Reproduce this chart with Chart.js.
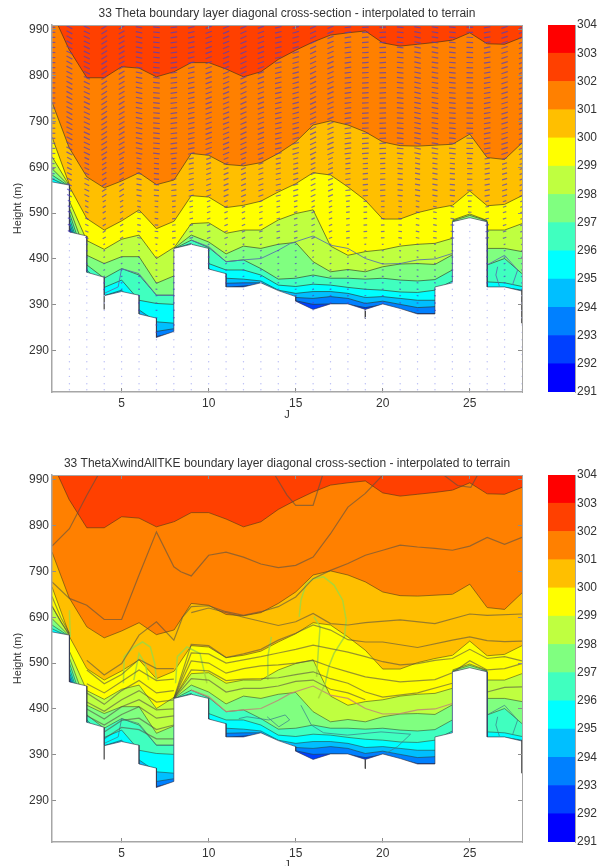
<!DOCTYPE html>
<html lang="en">
<head>
    <meta charset="UTF-8">
    <title>Theta boundary layer cross-sections</title>
    <script src="https://cdn.jsdelivr.net/npm/chart.js"></script>
    <style>
        html, body { margin: 0; padding: 0; background: #fff; }
        #page { position: relative; width: 602px; height: 866px; overflow: hidden; }
        canvas { position: absolute; filter: blur(0.6px); }
        #main1 { left: 0; top: 0; }
        #bar1 { left: 548px; top: 0; }
        #main2 { left: 0; top: 450px; }
        #bar2 { left: 548px; top: 450px; }
    </style>
</head>
<body>
<div id="page">
    <canvas id="main1" width="574" height="425"></canvas>
    <canvas id="bar1" width="54" height="425"></canvas>
    <canvas id="main2" width="574" height="416"></canvas>
    <canvas id="bar2" width="54" height="416"></canvas>
</div>
<script>
// columns of the contour tables. the 2.01, 8.01, 24.01, 26.01 entries are the far side of a terrain step
const jGrid = [1,2,2.01,3,4,5,6,7,8,8.01,9,10,11,12,13,14,15,16,17,18,19,20,21,22,23,24,24.01,25,26,26.01,27,28];

// height (m) of each theta contour
const theta302 = [1028,945,945,885,885,909,906,887,898,898,918,918,904,887,898,925,945,963,978,983,987,961,954,958,962,967,967,983,959,959,958,973];
const theta301 = [832,731,731,669,645,660,678,652,662,662,720,716,696,693,700,720,745,782,791,782,767,745,737,736,738,740,740,762,711,711,707,743];
const theta300 = [756,652,647,578,553,573,597,556,572,572,628,625,602,607,616,636,654,678,673,647,618,577,577,591,600,607,607,638,606,606,609,628];
const theta299 = [713,650,615,530,511,533,542,491,515,514,567,569,546,553,553,575,589,597,518,498,506,510,518,522,524,535,575,588,574,553,553,567];
const theta298 = [687,649,600,498,480,495,495,437,453,513,542,527,501,518,513,522,526,484,462,467,462,473,479,480,478,499,573,585,573,513,513,506];
const theta297 = [673,648,589,477,448,469,455,411,411,512,531,515,484,488,469,446,448,455,448,448,446,448,444,442,445,466,572,576,572,477,491,458];
const theta296 = [665,647,578,466,428,444,400,393,391,512,524,480,466,466,455,433,430,435,433,428,424,422,418,417,422,442,571,575,571,440,438,430];
const theta295 = [655,646,569,461,410,422,379,353,350,511,521,469,448,446,442,422,415,419,419,415,406,408,404,400,400,433,570,574,570,428,428,422];
const theta294 = [650,645,560,455,405,415,370,332,338,510,518,466,437,438,438,418,406,404,408,404,393,398,391,384,386,430,569,573,569,425,425,418];
const theta293 = [645,644,553,450,400,410,365,321,329,509,516,462,428,431,434,414,399,391,392,391,384,390,380,371,371,425,568,572,568,420,420,415];

// terrain outline, steps have the same J twice
const terrainJ = [1,2,2,3,3,4,4,5,6,6,7,7,8,8,9,10,10,11,11,12,13,14,15,15,16,17,18,19,20,21,22,23,23,24,24,25,26,26,27,28];
const terrainH = [658,651,549,540,461,450,410,419,411,370,361,319,332,513,522,513,468,458,429,429,438,421,408,398,380,392,392,380,392,382,370,370,429,438,571,580,571,429,429,420];

const stemJ4 = [[4,410],[4,380]];
const stemJ19 = [[19,380],[19,360]];
const stemJ28 = [[28,422],[28,350]];

const xTicks = [5,10,15,20,25];
const yTicks = [290,390,490,590,690,790,890,990];
const barTicks = [291,292,293,294,295,296,297,298,299,300,301,302,303,304];
const barColors = ['#0000ff','#0040ff','#0080ff','#00bfff','#00ffff','#40ffbf','#80ff80','#bfff40','#ffff00','#ffbf00','#ff8000','#ff4000','#ff0000'];

// wind component contour on the first panel (also on the second, lighter)
const xwindA = [[4,415],[4.8,429],[5,469],[6,458],[7,411],[8,411]];
const xwindB = [[9,531],[10,517],[11,484],[12,488],[13,491],[14,509],[14.7,524],[16,540],[17,520],[18,513],[19,491],[20,479],[21,480],[22,488],[23,490],[24,502]];
const xwindC = [[26,477],[27,498],[27.75,466],[27.45,433]];
const xwindD = [[26.6,473],[26.5,455],[26.7,431]];

// second panel dark lines
const tkeA = [[1,845],[2,883],[3,956],[3.65,1000]];
const tkeB = [[1,767],[2,731],[3,716],[4,685],[5,685],[6,782],[7,876],[8,800],[8.4,789],[9,780],[10,825],[11,832],[12,821],[13,806],[14,798],[15,803],[16,821],[17,872],[18,930],[19,960],[20,1000]];
const tkeC = [[13.8,1000],[14.5,956],[15,934],[16,934],[16.55,1000]];
const tkeD = [[23.5,1000],[24.3,977],[25.06,973],[25.45,1000]];
const tkeE = [[3,596],[4,564],[5,589],[6,651],[7,680],[8,640],[8.5,690],[9,713],[10,715],[11,702],[12,694],[13,702],[14,713],[15,734],[16,774],[17,792],[18,807],[19,825],[20,836],[21,847],[22,843],[23,840],[24,836],[25,845],[26,864],[27,849],[28,864]];
const tkeF = [[9,700],[10,710],[12,690],[14,672],[15,680],[16,698],[17,676],[18,673],[19,678],[21,684],[23,676],[25,697],[26,694],[28,697]];
const tkeG = [[8,513],[9,631],[10,628],[11,602],[12,610],[13,620],[14,640],[15,655],[16,673],[17,662],[18,641],[19,636],[20,636],[22,624],[24,640],[25,647],[26,639],[27,637],[28,638]];
const tkeH = [[8,513],[9,612],[10,610],[11,590],[12,597],[13,604],[14,612],[15,620],[16,629],[18,614],[19,604],[20,593],[21,586],[22,589],[23,596],[24,600],[25,620],[26,600],[27,604],[28,595]];
const tkeI = [[8,513],[9,595],[10,590],[11,568],[12,578],[13,584],[14,586],[15,590],[16,596],[17,582],[18,571],[19,560],[21,549],[23,554],[24,569],[25,595],[26,575],[27,578],[28,589]];
const tkeJ = [[8,513],[9,575],[10,573],[11,552],[12,555],[13,556],[14,558],[15,565],[16,571],[17,556],[18,546],[19,527],[20,516],[22,525],[24,546]];
const tkeK = [[26,527],[27,537],[28,538]];
const tkeL = [[8,513],[9,556],[10,553],[11,527],[12,535],[13,535],[14,540],[15,550],[16,553],[17,533],[18,525],[19,510]];
const tkeM1 = [[3,575],[4,545],[5,565],[6,598],[7,578],[8,578]];
const tkeM2 = [[3,545],[4,525],[5,550],[6,575],[7,552],[8,555]];
const tkeM3 = [[3,525],[4,500],[5,530],[6,552],[7,525],[8,530]];
const tkeM4 = [[3,505],[4,485],[5,510],[6,530],[7,505],[8,510]];
const tkeM5 = [[3,490],[4,468],[5,495],[6,510],[7,488],[8,490]];
const tkeM6 = [[3,475],[4,455],[5,478],[6,495],[7,470],[8,475]];
const tkeM7 = [[4,440],[5,465],[6,470],[7,445],[8,455]];
const tkeM8 = [[4,425],[5,450],[6,445],[7,425],[8,425]];
const tkeN = [[1,735],[1.5,690],[2,655]];
const tkeO = [[1,715],[1.5,680],[2,652]];

// green TKE arcs
const arcA = [[5.1,546],[5.15,604],[5.7,625],[6.2,636],[6.65,625],[6.9,589],[7,553]];
const arcB = [[5.7,553],[6,611],[6.35,589],[6.55,553]];
const arcC = [[8.1,546],[8.2,604],[8.75,625],[9.5,611],[9.9,546]];
const arcD = [[2,705],[2.05,647]];
const arcE = [[13.6,647],[13.4,604],[13.4,553]];
const arcF = [[15.2,691],[15.3,727],[15.6,763],[16.05,774],[16.6,778],[17.2,760],[17.7,727],[17.9,684],[17.8,647],[17.2,611],[16.9,582],[16.7,546],[16.3,513]];
const arcG = [[16.05,691],[16.4,669],[16.3,618],[16.2,560]];

// teal lines low down
const tealA = [[15.3,498],[15.9,455],[16.6,438],[17.97,433],[19.9,440],[21.6,435],[20.85,408],[20,389]];
const tealB = [[11.73,469],[12.2,473],[13.45,466],[14.4,477],[14.65,466],[14.03,451],[13.36,473]];

// wind arrows on the first panel: model levels, speed per level, direction per J column
const windLevels = [995,984,973,962,951,940,929,918,907,896,885,874,863,852,841,830,819,808,797,786,775,764,753,742,731,720,709,698,687,676,664,652,640,628,616,604,592,578,564,550,536,522,508,494,480,466,452,438,424,410,394,378,362,346,330,314,298,282,266,250,234,218,205];
const windSpeed = [3.3,3.3,3.3,3.3,3.3,3.3,3.3,3.3,3.3,3.3,3.3,3.3,3.3,3.3,3.3,3.3,3.3,3.3,3.3,3.3,3.3,3.3,3.3,3.3,3.3,3.3,2.6,2.6,2.6,2.6,2.6,2.6,2.6,2.6,1.8,1.8,1.8,1.8,1.8,1.8,1.8,0.9,0.9,0.9,0.9,0.9,0.9,0.9,0.9,0.9,0.9,0.9,0.9,0.9,0.9,0.9,0.9,0.9,0.9,0.9,0.9,0.9,0.9];
const windAngle = [0,28,25,-32,-30,12,6,-8,-14,-20,-22,-24,-20,-14,-16,-25,-22,-8,-4,-3,6,12,10,6,2,-10,-18,-22];

function pts(xs, ys) { return xs.map((x, i) => ({x: x, y: ys[i]})); }
function pairs(list) { return list.map(p => ({x: p[0], y: p[1]})); }

function lineSet(list, color, width, order) {
    return {data: pairs(list), borderColor: color, borderWidth: width, pointRadius: 0, fill: false, tension: 0, order: order};
}

// same contour for the stroke, with a gap over each terrain step
function brokenAtSteps(row) {
    const out = [];
    jGrid.forEach((x, i) => {
        out.push({x: x, y: row[i]});
        if (jGrid[i + 1] - x < 0.1) out.push({x: x, y: null});
    });
    return out;
}

function contourSets(stroke) {
    const rows = [theta302, theta301, theta300, theta299, theta298, theta297, theta296, theta295, theta294, theta293];
    const colors = ['#ff8000','#ffbf00','#ffff00','#bfff40','#80ff80','#40ffbf','#00ffff','#00bfff','#0080ff','#0040ff'];
    // painted top down, each band fills everything below its contour
    const sets = [{
        data: [{x: 1, y: 1000}, {x: 28, y: 1000}],
        borderWidth: 0, pointRadius: 0, backgroundColor: '#ff4000', fill: 'start', order: 100
    }];
    rows.forEach((row, i) => {
        sets.push({
            data: pts(jGrid, row), borderWidth: 0, borderColor: 'rgba(0,0,0,0)',
            backgroundColor: colors[i], fill: 'start',
            pointRadius: 0, tension: 0, order: 90 - i
        });
        sets.push({
            data: brokenAtSteps(row), borderColor: stroke, borderWidth: 1,
            fill: false, pointRadius: 0, tension: 0, spanGaps: false, order: 89.5 - i
        });
    });
    return sets;
}

function terrainSets() {
    const edge = 'rgba(50,50,70,0.6)';
    return [
        {data: pts(terrainJ, terrainH), borderColor: edge, borderWidth: 1, backgroundColor: '#fff', fill: 'start', pointRadius: 0, tension: 0, order: 3},
        lineSet(stemJ4, 'rgba(90,90,90,0.9)', 1.5, 2),
        lineSet(stemJ19, 'rgba(70,70,70,0.9)', 1, 2),
        lineSet(stemJ28, 'rgba(70,70,70,0.9)', 1, 2)
    ];
}

function windSets() {
    const dash = [], dashSize = [], dashRot = [], dots = [];
    for (let j = 1; j <= 28; j++) {
        const floor = Math.min(...terrainH.filter((h, i) => terrainJ[i] === j));
        windLevels.forEach((h, k) => {
            if (h > floor) {
                dash.push({x: j, y: h});
                dashSize.push(windSpeed[k]);
                dashRot.push(windAngle[j - 1]);
            } else if (j > 1) {
                dots.push({x: j, y: h});
            }
        });
    }
    return [
        {data: dash, showLine: false, pointStyle: 'line', pointRadius: dashSize, pointRotation: dashRot,
         pointBorderColor: 'rgba(75,60,200,0.7)', pointBorderWidth: 1.2, order: 1},
        {data: dots, showLine: false, pointStyle: 'circle', pointRadius: 0.7,
         pointBackgroundColor: '#b9bdf5', pointBorderWidth: 0, order: 1}
    ];
}

function overlayTop() {
    const c = 'rgba(85,110,175,0.85)';
    return [xwindA, xwindB, xwindC, xwindD].map(l => lineSet(l, c, 1, 10));
}

function overlayBottom() {
    const dark = 'rgba(85,80,70,0.6)';
    const green = 'rgba(165,215,60,0.9)';
    const teal = 'rgba(60,130,140,0.75)';
    const rose = 'rgba(190,135,120,0.85)';
    const out = [];
    [tkeA,tkeB,tkeC,tkeD,tkeE,tkeF,tkeG,tkeH,tkeI,tkeJ,tkeK,tkeL,tkeM1,tkeM2,tkeM3,tkeM4,tkeM5,tkeM6,tkeM7,tkeM8,tkeN,tkeO].forEach(l => out.push(lineSet(l, dark, 1.2, 10)));
    [arcA,arcB,arcC,arcD,arcE,arcF,arcG].forEach(l => out.push(lineSet(l, green, 1.5, 11)));
    [tealA,tealB,xwindA,xwindC,xwindD].forEach(l => out.push(lineSet(l, teal, 1, 12)));
    out.push(lineSet(xwindB, rose, 1.2, 12));
    return out;
}

function frameAxis(position, axis, lo, hi, ticks, size, extra) {
    const s = {
        type: 'linear', position: position, axis: axis, min: lo, max: hi,
        afterBuildTicks: sc => { sc.ticks = ticks.map(v => ({value: v})); },
        afterFit: sc => { if (axis === 'x') sc.height = size; else sc.width = size; },
        grid: {display: true, drawOnChartArea: false, drawTicks: true, tickLength: -4, color: '#8c8c8c', z: 1},
        border: {display: true, color: '#a6a6a6', width: 1, z: 1},
        ticks: {display: false}
    };
    return Object.assign(s, extra || {});
}

function mainChart(id, title, axisHeight, jPad, sets) {
    const labelFont = {family: 'Liberation Sans', size: 12};
    return new Chart(document.getElementById(id), {
        type: 'line',
        data: {datasets: sets},
        options: {
            responsive: false,
            animation: false,
            layout: {autoPadding: false},
            plugins: {
                legend: {display: false},
                tooltip: {enabled: false},
                title: {display: true, text: title, color: '#333', font: {family: 'Liberation Sans', size: 12, weight: 'normal'}, padding: {top: 6.5, bottom: 4.1}}
            },
            scales: {
                x: frameAxis('bottom', 'x', 1, 28, xTicks, axisHeight, {
                    ticks: {display: true, color: '#333', font: labelFont, padding: 8, maxRotation: 0, autoSkip: false},
                    border: {display: true, color: '#a6a6a6', width: 1.5, z: 1},
                    title: {display: true, text: 'J', color: '#333', font: {family: 'Liberation Sans', size: 11}, padding: {top: 0, bottom: jPad}}
                }),
                y: frameAxis('left', 'y', 200, 1000, yTicks, 52, {
                    ticks: {display: true, color: '#333', font: labelFont, padding: 7, autoSkip: false},
                    border: {display: true, color: '#a6a6a6', width: 1.5, z: 1},
                    title: {display: true, text: 'Height (m)', color: '#333', font: {family: 'Liberation Sans', size: 11}, padding: {top: 11, bottom: 0}}
                }),
                x2: frameAxis('top', 'x', 1, 28, xTicks, 0),
                y2: frameAxis('right', 'y', 200, 1000, yTicks, 52)
            }
        }
    });
}

function colorBar(id, bottomPad) {
    const sets = barColors.map((c, i) => ({
        data: [[barTicks[i], barTicks[i + 1]]],
        backgroundColor: c, borderWidth: 0, borderSkipped: false,
        barPercentage: 1, categoryPercentage: 1
    }));
    return new Chart(document.getElementById(id), {
        type: 'bar',
        data: {labels: [''], datasets: sets},
        options: {
            responsive: false,
            animation: false,
            layout: {autoPadding: false, padding: {top: 25, bottom: bottomPad}},
            plugins: {legend: {display: false}, tooltip: {enabled: false}},
            datasets: {bar: {grouped: false}},
            scales: {
                x: {display: false},
                y: {
                    position: 'right', min: 291, max: 304,
                    afterBuildTicks: sc => { sc.ticks = barTicks.map(v => ({value: v})); },
                    afterFit: sc => { sc.width = 27; },
                    grid: {display: false, drawTicks: false, tickLength: 0},
                    border: {display: true, color: '#a6a6a6'},
                    ticks: {color: '#333', padding: 2, autoSkip: false, font: {family: 'Liberation Sans', size: 12}}
                }
            }
        }
    });
}

mainChart('main1', '33 Theta boundary layer diagonal cross-section - interpolated to terrain', 33, 3,
    [...contourSets('rgba(45,45,30,0.6)'), ...overlayTop(), ...terrainSets(), ...windSets()]);
colorBar('bar1', 33);

mainChart('main2', '33 ThetaXwindAllTKE boundary layer diagonal cross-section - interpolated to terrain', 24, -6,
    [...contourSets('rgba(45,45,30,0.5)'), ...overlayBottom(), ...terrainSets()]);
colorBar('bar2', 24);
</script>
</body>
</html>
